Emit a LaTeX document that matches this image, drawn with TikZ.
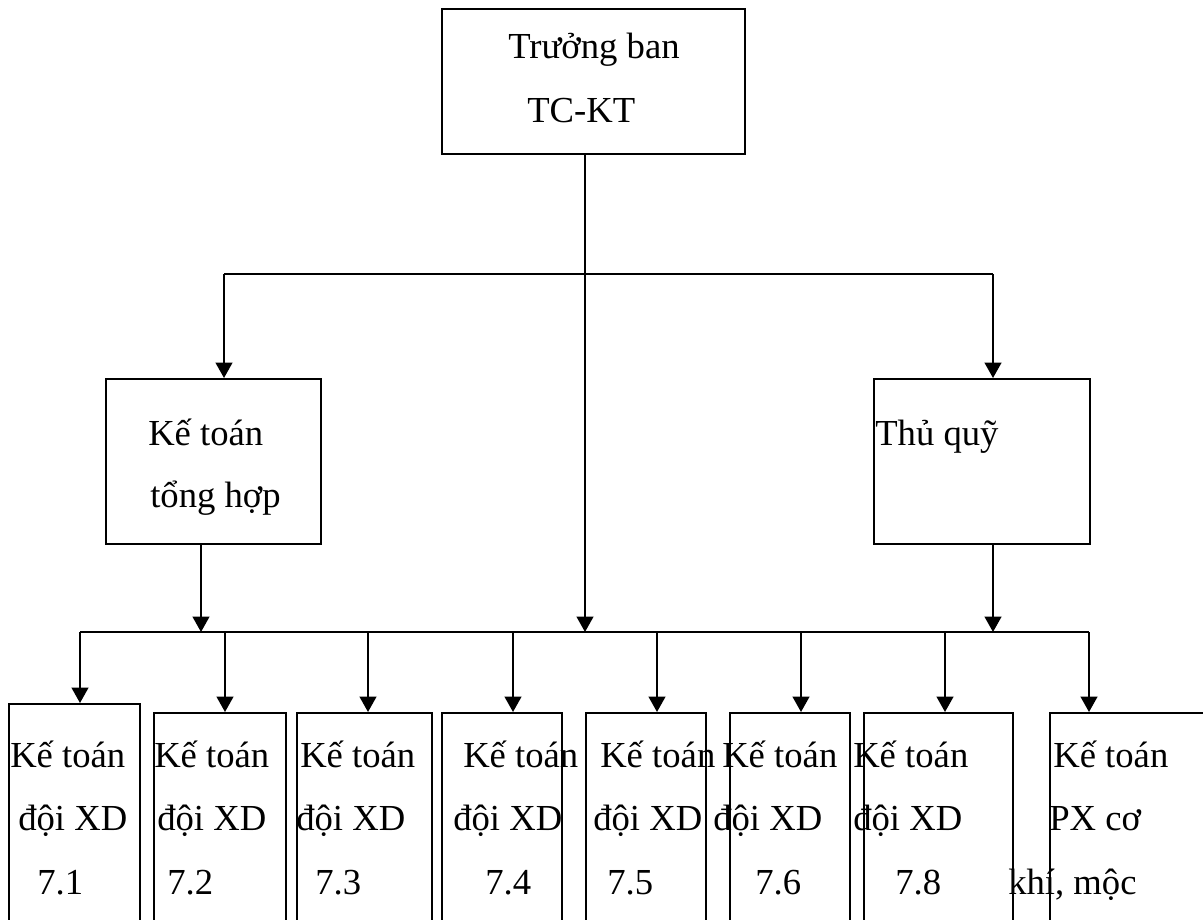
\documentclass[tikz,border=0pt]{standalone}
\usepackage{fontspec}
\setmainfont{Liberation Serif}
\usepackage{tikz}
\usetikzlibrary{positioning, arrows.meta}

\tikzset{
  box/.style={draw, line width=1.5pt, inner sep=0pt, anchor=north west},
  boxwh/.style 2 args={minimum width=#1*0.75pt, minimum height=#2*0.75pt},
  txt/.style={anchor=base west, inner sep=0pt, font=\fontsize{27.5}{33}\selectfont},
  link/.style={line width=1.5pt}
}

\begin{document}
\begin{tikzpicture}[>={Triangle[length=11.5pt,width=12.5pt]}, x=0.75pt, y=-0.75pt]
      \useasboundingbox (0,0) rectangle (1203,920);
      \clip (0,0) rectangle (1203,920);
      % upper levels
      \node[box, boxwh={303}{145}] (head) at (441,8) {};
      \node[txt] (headA) at (508,59) {Trưởng ban};
      \node[txt] (headB) at (527,123) {TC-KT};
      \node[box, boxwh={215}{165}] (sum) at (105,378) {};
      \node[txt] (sumA) at (148,445) {Kế toán};
      \node[txt] (sumB) at (150,507) {tổng hợp};
      \node[box, boxwh={216}{165}] (cash) at (873,378) {};
      \node[txt] (cashA) at (875,445) {Thủ quỹ};
      \coordinate (splitL) at (224,274);
      \coordinate (splitR) at (993,274);
      \coordinate (trunk) at (585,632);
      \coordinate (sumBus) at (201,632);
      \coordinate (cashBus) at (993,632);
      \draw[link] (splitL) -- (splitR);
      \draw[link, ->] (head.south -| trunk) -- (trunk);
      \draw[link, ->] (splitL) -- (splitL |- sum.north);
      \draw[link, ->] (splitR) -- (splitR |- cash.north);
      \draw[link, ->] (sum.south -| sumBus) -- (sumBus);
      \draw[link, ->] (cash.south -| cashBus) -- (cashBus);
      % bottom row
      \foreach \n/\l/\t/\w/\ax in {1/8/703/131/80, 2/153/712/132/225, 3/296/712/135/368,
                                   4/441/712/120/513, 5/585/712/120/657, 6/729/712/120/801,
                                   7/863/712/149/945, 8/1049/712/181/1089} {
        \node[box, boxwh={\w}{240}] (team\n) at (\l,\t) {};
        \coordinate (drop\n) at (\ax,632);
        \draw[link, ->] (drop\n) -- (drop\n |- team\n.north);
      }
      \draw[link] (drop1) -- (drop8);
      \foreach \n/\xa/\xb/\xc/\la/\lb/\lc in {1/10/18/37/Kế toán/đội XD/7.1,
          2/154/157/167/Kế toán/đội XD/7.2, 3/300/296/315/Kế toán/đội XD/7.3,
          4/463/453/485/Kế toán/đội XD/7.4, 5/600/593/607/Kế toán/đội XD/7.5,
          6/722/713/755/Kế toán/đội XD/7.6, 7/853/853/895/Kế toán/đội XD/7.8,
          8/1053/1049/1008/Kế toán/PX cơ/{khí, mộc}} {
        \node[txt] (teamA\n) at (\xa,767) {\la};
        \node[txt] (teamB\n) at (\xb,830) {\lb};
        \node[txt] (teamC\n) at (\xc,894) {\lc};
      }
    \end{tikzpicture}
\end{document}
